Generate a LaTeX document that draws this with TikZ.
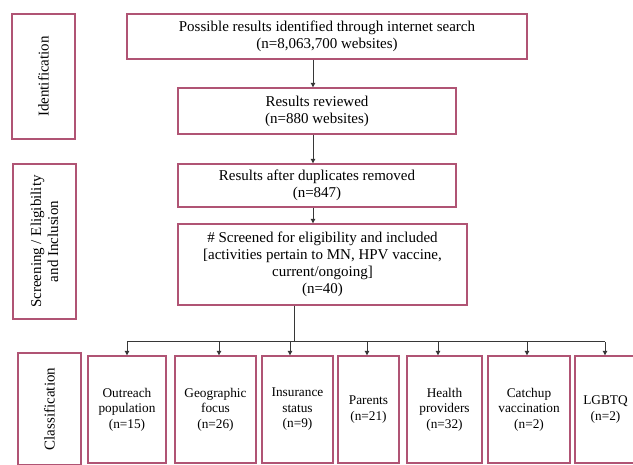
\documentclass[tikz,border=0pt]{standalone}
\usepackage{fontspec}
\setmainfont{Liberation Serif}
\usetikzlibrary{arrows.meta}
\definecolor{boxred}{RGB}{176,84,116}
\definecolor{linegray}{RGB}{55,55,55}
\tikzset{
  box/.style={draw=boxred, line width=1.4pt, rectangle, align=center, inner sep=2pt,
    font=\fontsize{15}{17}\selectfont},
  sidebox/.style={box, rotate=90},
  catbox/.style={draw=boxred, line width=1.4pt, rectangle, align=center, inner sep=1pt,
    minimum height=107pt, font=\fontsize{13.3}{15.5}\selectfont},
  conn/.style={draw=linegray, line width=1pt},
  arr/.style={conn, -{Triangle[width=4.5pt,length=4.5pt]}}
}
\begin{document}
\begin{tikzpicture}[x=1pt,y=-1pt]
\useasboundingbox (0,0) rectangle (633,465);
\clip (0,0) rectangle (633,465);
% side labels
\node[sidebox, minimum width=125pt, minimum height=63pt] (L1) at (43.5,76.5) {Identification};
\node[sidebox, minimum width=155pt, minimum height=63pt] (L2) at (44.5,241.5) {Screening / Eligibility\\and Inclusion};
\node[sidebox, minimum width=112pt, minimum height=63pt] (L3) at (49.5,409) {Classification};
% main flow
\node[box, minimum width=400pt, minimum height=45pt] (b1) at (327,36.5) {Possible results identified through internet search\\(n=8,063,700 websites)};
\node[box, minimum width=278pt, minimum height=46pt] (b2) at (317,111) {Results reviewed\\(n=880 websites)};
\node[box, minimum width=278pt, minimum height=43pt] (b3) at (317,185.5) {Results after duplicates removed\\(n=847)};
\node[box, minimum width=289pt, minimum height=81pt] (b4) at (322.5,264.5) {\# Screened for eligibility and included\\{[activities pertain to MN, HPV vaccine,}\\current/ongoing]\\(n=40)};
% categories
\node[catbox, minimum width=78pt] (c1) at (127,409.5) {Outreach\\population\\(n=15)};
\node[catbox, minimum width=81pt] (c2) at (215.5,409.5) {Geographic\\focus\\(n=26)};
\node[catbox, minimum width=71pt] (c3) at (297.5,409.5) {Insurance\\status\\(n=9)};
\node[catbox, minimum width=61pt] (c4) at (368.5,409.5) {Parents\\(n=21)};
\node[catbox, minimum width=75pt] (c5) at (444.5,409.5) {Health\\providers\\(n=32)};
\node[catbox, minimum width=82pt] (c6) at (529,409.5) {Catchup\\vaccination\\(n=2)};
\node[catbox, minimum width=61pt] (c7) at (605.5,409.5) {LGBTQ\\(n=2)};
% connector coordinates
\coordinate (ax) at (313,0);
\coordinate (dx) at (294,0);
\coordinate (busL) at (127,342);
\coordinate (busR) at (605,342);
\coordinate (bus) at (294,342);
\coordinate (t1) at (127,342);
\coordinate (t2) at (219,342);
\coordinate (t3) at (290,342);
\coordinate (t4) at (367,342);
\coordinate (t5) at (438,342);
\coordinate (t6) at (527,342);
\coordinate (t7) at (605,342);
% connectors
\draw[arr] (b1.south -| ax) -- (b2.north -| ax);
\draw[arr] (b2.south -| ax) -- (b3.north -| ax);
\draw[arr] (b3.south -| ax) -- (b4.north -| ax);
\draw[conn] (b4.south -| dx) -- (bus);
\draw[conn] (busL) -- (busR);
\foreach \i in {1,...,7}{
  \draw[arr] (t\i) -- (t\i |- c\i.north);
}
\end{tikzpicture}
\end{document}
